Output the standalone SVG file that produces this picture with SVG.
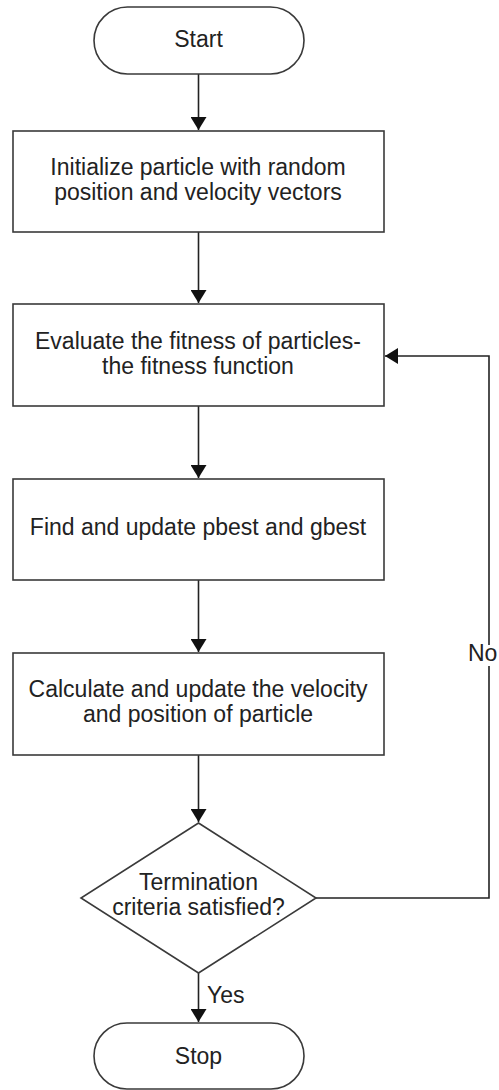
<svg xmlns="http://www.w3.org/2000/svg" width="499" height="1090" viewBox="0 0 499 1090">
<style>
.shape{fill:#fff;stroke:#3a3a3a;stroke-width:1.6}
.t{font-family:"Liberation Sans",Arial,sans-serif;font-size:23px;fill:#222;text-anchor:middle}
.lbl{font-family:"Liberation Sans",Arial,sans-serif;font-size:23px;fill:#222}
.c{fill:none;stroke:#222;stroke-width:1.6}
</style>
<defs>
<marker id="ah" markerWidth="16" markerHeight="16" refX="13" refY="8" orient="auto" markerUnits="userSpaceOnUse">
<path d="M0,0 L13,8 L0,16 Z" fill="#111"/>
</marker>
</defs>
<rect width="499" height="1090" fill="#fff"/>
<g id="connectors">
<line class="c" x1="198.5" y1="74" x2="198.5" y2="130" marker-end="url(#ah)"/>
<line class="c" x1="198.5" y1="232" x2="198.5" y2="303" marker-end="url(#ah)"/>
<line class="c" x1="198.5" y1="406" x2="198.5" y2="478" marker-end="url(#ah)"/>
<line class="c" x1="198.5" y1="580" x2="198.5" y2="652" marker-end="url(#ah)"/>
<line class="c" x1="198.5" y1="755" x2="198.5" y2="822" marker-end="url(#ah)"/>
<line class="c" x1="198.5" y1="973" x2="198.5" y2="1022" marker-end="url(#ah)"/>
<polyline class="c" points="316,898 489,898 489,666"/>
<polyline class="c" points="489,645 489,356 385,356" marker-end="url(#ah)"/>
<text class="lbl" x="207" y="1003">Yes</text>
<text class="lbl" x="468" y="661">No</text>
</g>
<g id="start">
<rect class="shape" x="94" y="7" width="210" height="67" rx="33.5" ry="33.5"/>
<text class="t" x="198.5" y="47">Start</text>
</g>
<g id="init">
<rect class="shape" x="13" y="131" width="371" height="101"/>
<text class="t" x="198" y="175">Initialize particle with random</text>
<text class="t" x="198" y="200">position and velocity vectors</text>
</g>
<g id="evaluate">
<rect class="shape" x="13" y="304" width="371" height="102"/>
<text class="t" x="198" y="349">Evaluate the fitness of particles-</text>
<text class="t" x="198" y="374">the fitness function</text>
</g>
<g id="find">
<rect class="shape" x="13" y="479" width="371" height="101"/>
<text class="t" x="198" y="535">Find and update pbest and gbest</text>
</g>
<g id="calc">
<rect class="shape" x="13" y="653" width="371" height="102"/>
<text class="t" x="198" y="697">Calculate and update the velocity</text>
<text class="t" x="198" y="722">and position of particle</text>
</g>
<g id="decision">
<polygon class="shape" points="198.5,823 316,898 198.5,973 81,898"/>
<text class="t" x="198.5" y="890">Termination</text>
<text class="t" x="198.5" y="915">criteria satisfied?</text>
</g>
<g id="stop">
<rect class="shape" x="94" y="1023" width="210" height="66" rx="33" ry="33"/>
<text class="t" x="198.5" y="1064">Stop</text>
</g>
</svg>
